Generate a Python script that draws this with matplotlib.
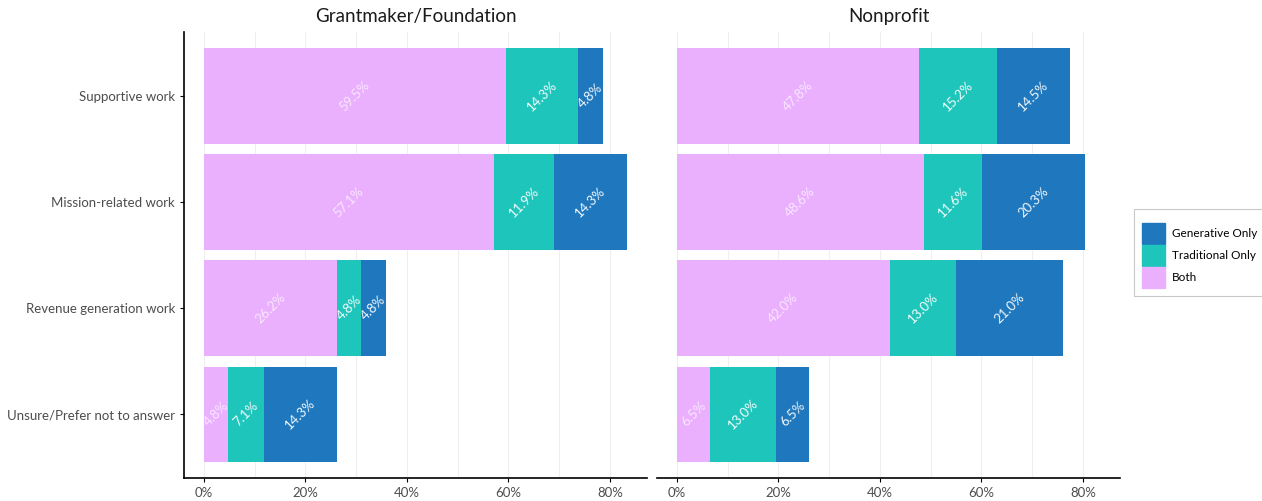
import numpy as np
import matplotlib.pyplot as plt
from matplotlib.patches import Patch

plt.rcParams['font.family'] = ['Lato', 'DejaVu Sans']

# Datos
categories = ['Supportive work', 'Mission-related work', 'Revenue generation work',
              'Unsure/Prefer not to answer']
panels = ['Grantmaker/Foundation', 'Nonprofit']
series = ['Both', 'Traditional Only', 'Generative Only']

grant_both = [59.5, 57.1, 26.2, 4.8]
grant_trad = [14.3, 11.9, 4.8, 7.1]
grant_gen = [4.8, 14.3, 4.8, 14.3]

nonp_both = [47.8, 48.6, 42.0, 6.5]
nonp_trad = [15.2, 11.6, 13.0, 13.0]
nonp_gen = [14.5, 20.3, 21.0, 6.5]

colors = {'Both': '#EAB0FE', 'Traditional Only': '#1EC5BA', 'Generative Only': '#1F78BE'}
text_alpha = {'Both': 0.7, 'Traditional Only': 0.95, 'Generative Only': 0.95}

ticks = [0, 20, 40, 60, 80]
tick_labels = ['0%', '20%', '40%', '60%', '80%']

fig = plt.figure(figsize=(12.62, 5.01), dpi=100)
ax1 = fig.add_axes([184 / 1262, 23 / 501, 463 / 1262, 446 / 501])
ax2 = fig.add_axes([657 / 1262, 23 / 501, 463 / 1262, 446 / 501])

y = np.arange(len(categories))
data = [(grant_both, grant_trad, grant_gen), (nonp_both, nonp_trad, nonp_gen)]

for ax, title, vals in zip([ax1, ax2], panels, data):
    left = np.zeros(len(categories))
    for name, v in zip(series, vals):
        v = np.array(v)
        ax.barh(y, v, left=left, height=0.9, color=colors[name], zorder=2)
        for yi, li, vi in zip(y, left, v):
            ax.text(li + vi / 2, yi, f'{vi:.1f}%', rotation=45, ha='center', va='center',
                    color='white', alpha=text_alpha[name], fontsize=9.5, zorder=3)
        left = left + v
    ax.set_xlim(-3.9, 87.3)
    ax.set_ylim(3.6, -0.6)
    ax.set_xticks(ticks)
    ax.set_xticklabels(tick_labels)
    ax.set_xticks(np.arange(0, 90, 10), minor=True)
    ax.grid(axis='x', which='both', color='#EFEFEF', linewidth=0.8, zorder=0)
    ax.tick_params(axis='x', which='minor', length=0)
    ax.tick_params(axis='both', labelsize=9.5, labelcolor='#4D4D4D', length=3, width=0.8)
    ax.set_title(title, fontsize=13.5, color='#1A1A1A', pad=7)
    for s in ['top', 'right']:
        ax.spines[s].set_visible(False)
    ax.spines['bottom'].set_linewidth(1.2)
    ax.set_axisbelow(True)

ax1.set_yticks(y)
ax1.set_yticklabels(categories)
ax1.spines['left'].set_linewidth(1.2)
ax2.set_yticks([])
ax2.spines['left'].set_visible(False)

handles = [Patch(color=colors[s], label=s) for s in ['Generative Only', 'Traditional Only', 'Both']]
leg = fig.legend(handles=handles, loc='upper left', bbox_to_anchor=(1134 / 1262, 1 - 209 / 501),
                 fontsize=8.5, frameon=True, fancybox=False, edgecolor='#BBBBBB',
                 handlelength=1.9, handleheight=2.4, labelspacing=0.05, borderpad=0.7,
                 handletextpad=0.6, borderaxespad=0, title=' ', title_fontsize=4)
leg.get_frame().set_linewidth(0.8)

fig.savefig('out.png', dpi=100)
